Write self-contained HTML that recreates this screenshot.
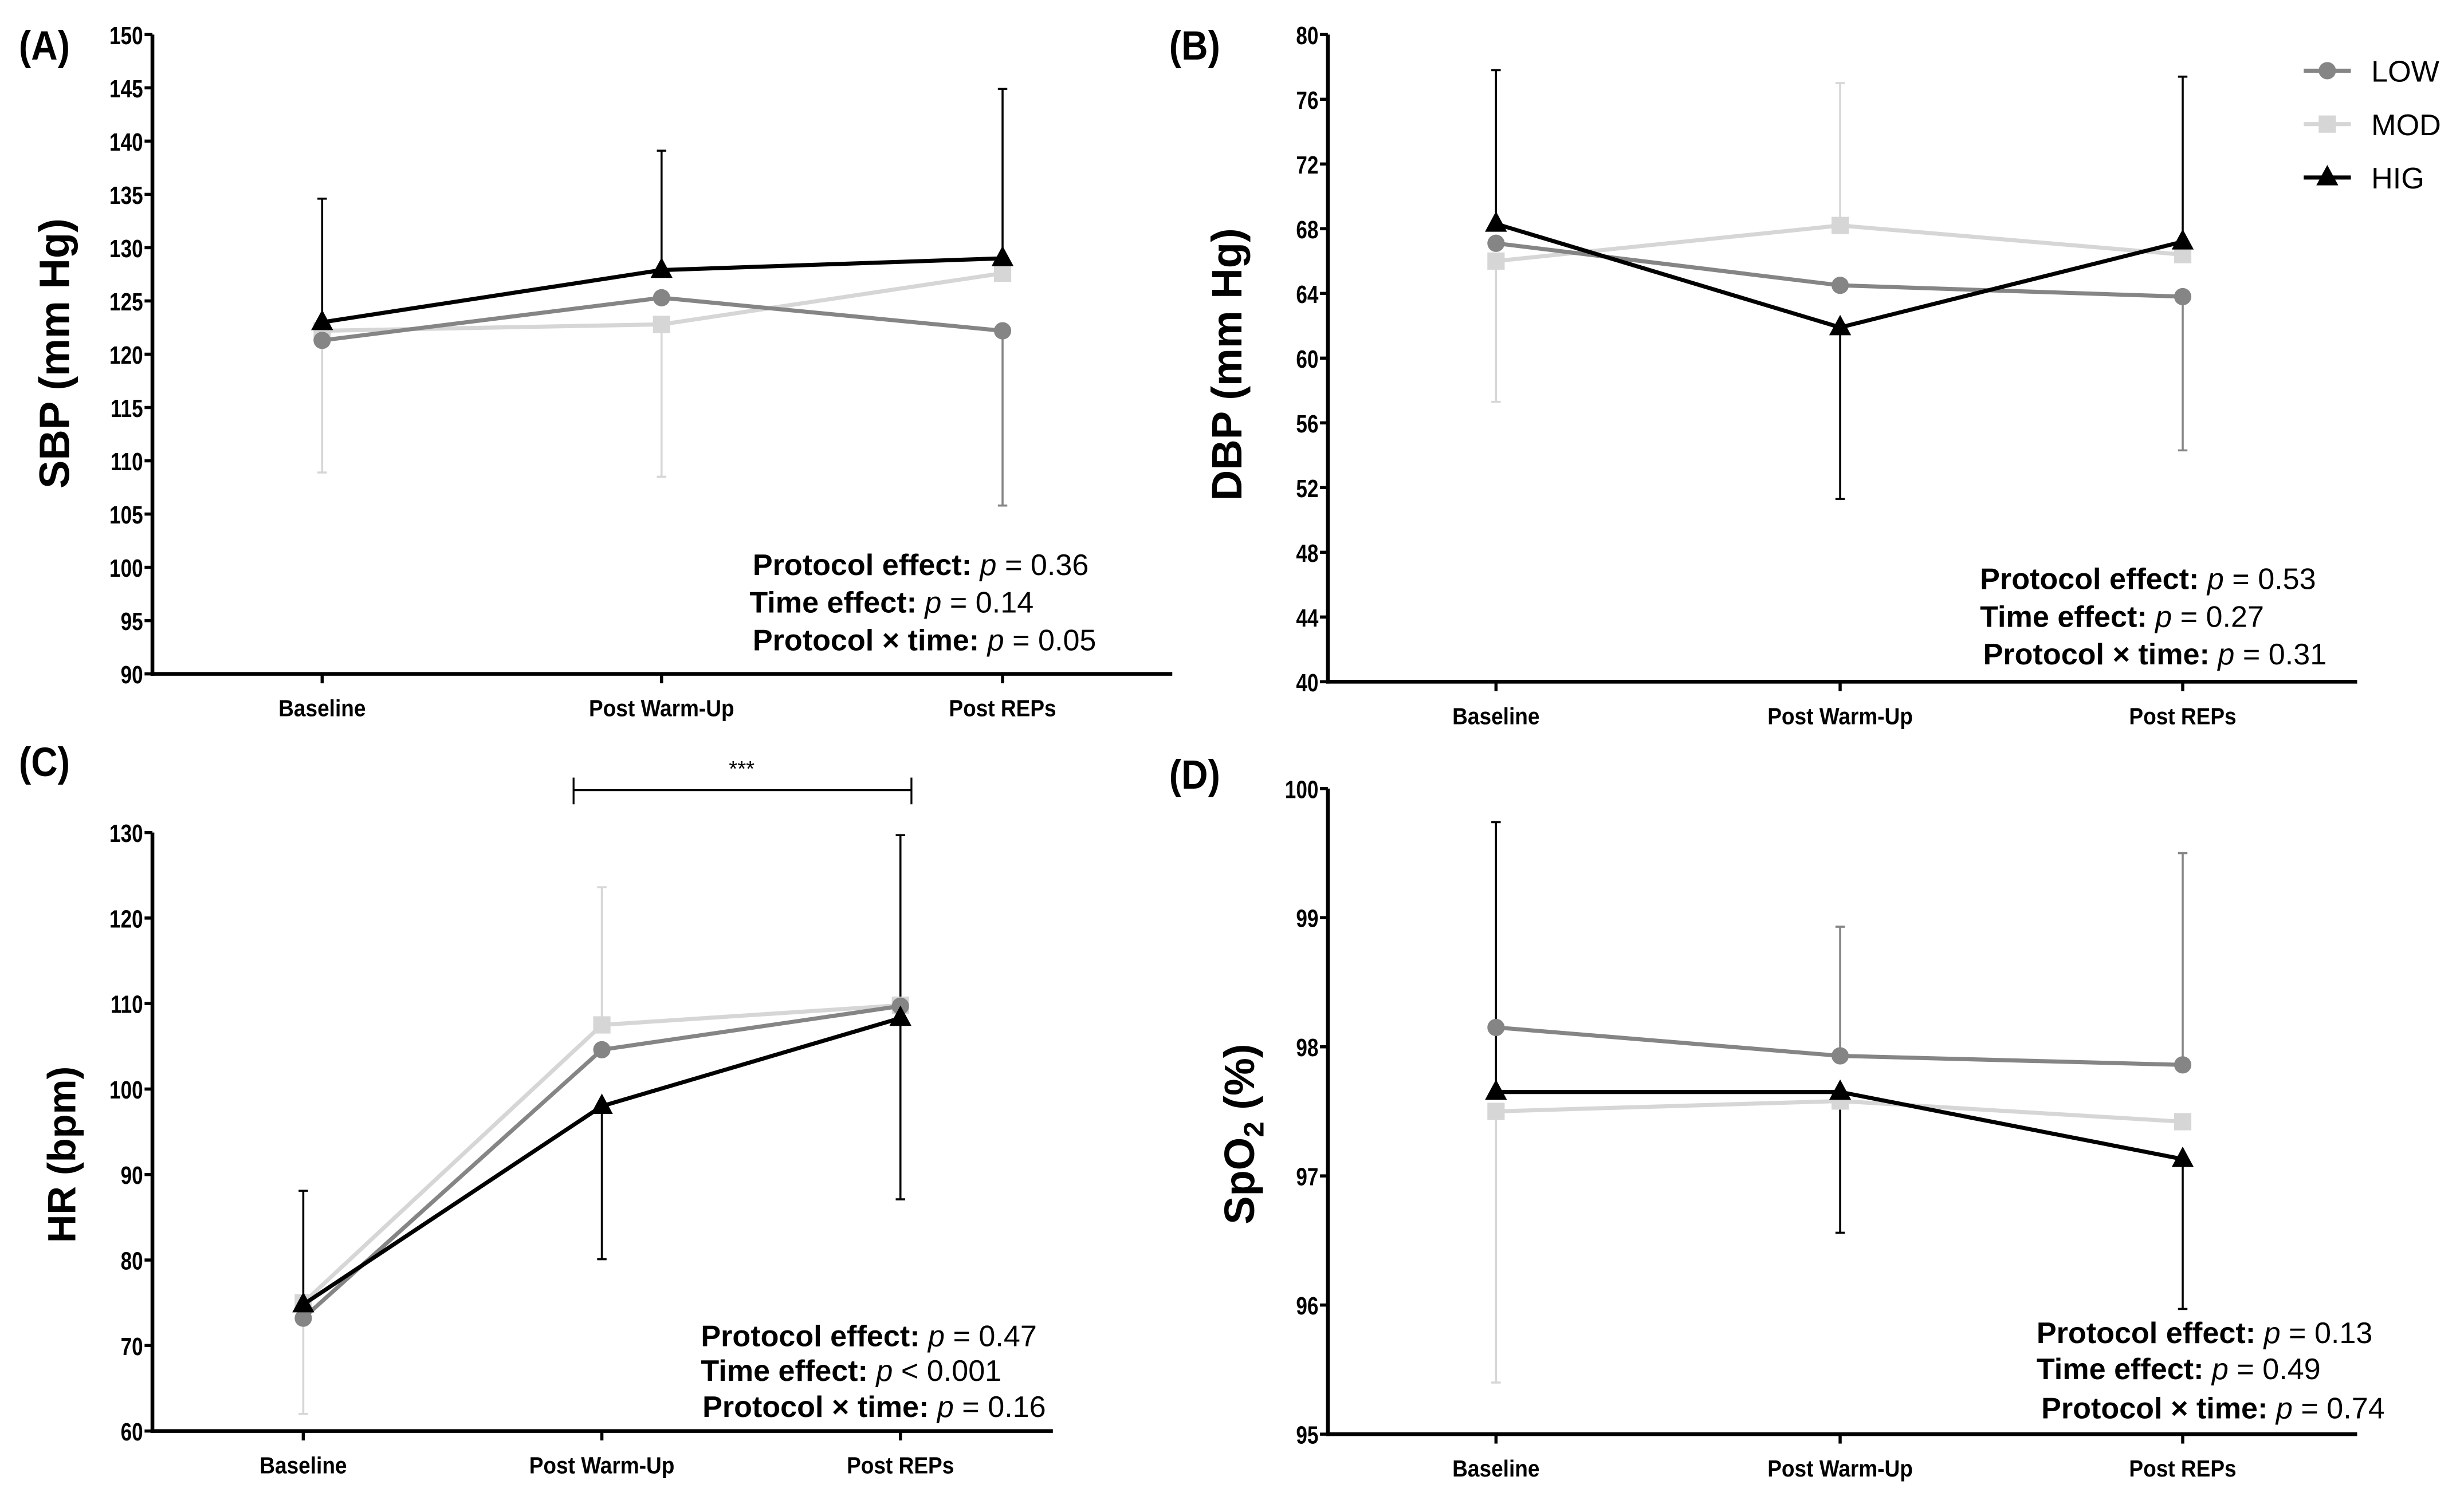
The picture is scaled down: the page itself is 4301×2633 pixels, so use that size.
<!DOCTYPE html>
<html><head><meta charset="utf-8"><style>
html,body{margin:0;padding:0;background:#fff}
svg{display:block}
text{font-family:"Liberation Sans",Arial,sans-serif}
</style></head><body>
<svg id="fig" width="4301" height="2633" viewBox="0 0 1568 960" preserveAspectRatio="none" xmlns="http://www.w3.org/2000/svg"></svg>
<script>
const categories=["Baseline","Post Warm-Up","Post REPs"];
// Panel A (SBP)
const aLow=[121.3,125.3,122.2], aMod=[122.2,122.8,127.6], aHig=[123,127.9,129];
const aErr=[["HIG",0,134.6],["HIG",1,139.1],["HIG",2,144.9],["MOD",0,108.9],["MOD",1,108.5],["LOW",2,105.8]];
const aTicks=[90,95,100,105,110,115,120,125,130,135,140,145,150];
// Panel B (DBP)
const bLow=[67.1,64.5,63.8], bMod=[66,68.2,66.4], bHig=[68.3,61.9,67.2];
const bErr=[["HIG",0,77.8],["HIG",1,51.3],["HIG",2,77.4],["MOD",0,57.3],["MOD",1,77],["LOW",2,54.3]];
const bTicks=[40,44,48,52,56,60,64,68,72,76,80];
// Panel C (HR)
const cLow=[73.2,104.6,109.7], cMod=[75,107.5,109.8], cHig=[74.8,98,108.3];
const cErr=[["HIG",0,88.1],["HIG",1,80.1],["HIG",2,129.7],["HIG",2,87.1],["MOD",0,62],["MOD",1,123.6]];
const cTicks=[60,70,80,90,100,110,120,130];
// Panel D (SpO2)
const dLow=[98.15,97.93,97.86], dMod=[97.5,97.58,97.42], dHig=[97.65,97.65,97.13];
const dErr=[["HIG",0,99.74],["HIG",1,96.56],["HIG",2,95.97],["MOD",0,95.4],["LOW",1,98.93],["LOW",2,99.5]];
const dTicks=[95,96,97,98,99,100];

const NS="http://www.w3.org/2000/svg";
const svg=document.getElementById('fig');
const COL={LOW:"#858585",MOD:"#d6d6d6",HIG:"#000"};
function mk(tag,attrs,parent,txt){const e=document.createElementNS(NS,tag);for(const k in attrs)e.setAttribute(k,attrs[k]);if(txt!==undefined)e.textContent=txt;(parent||svg).appendChild(e);return e;}

function marker(g,s,x,y){
  let m;
  if(s==="LOW"){m=mk('circle',{cx:x,cy:y,r:5.5,fill:COL.LOW},g);}
  else if(s==="MOD"){m=mk('rect',{x:x-5.5,y:y-5.5,width:11,height:11,fill:COL.MOD},g);}
  else {m=mk('polygon',{points:`${x},${y-8} ${x-7},${y+5} ${x+7},${y+5}`,fill:"#000"},g);}
  
  
}

function panel(cfg){
  const g=mk('g',{});
  
  
  const y=v=>cfg.y0+(v-cfg.vmin)/(cfg.vmax-cfg.vmin)*(cfg.y1-cfg.y0);
  const x=i=>cfg.xs[i];
  cfg.err.forEach(([s,i,v])=>{
    const l=mk('line',{x1:x(i),x2:x(i),y1:y(cfg.series[s][i]),y2:y(v),stroke:COL[s],'stroke-width':1.3},g);
     
    const c=mk('line',{x1:x(i)-3,x2:x(i)+3,y1:y(v),y2:y(v),stroke:COL[s],'stroke-width':1.3},g);
     
  });
  ["MOD","LOW","HIG"].forEach(s=>{
    const pts=cfg.series[s].map((v,i)=>x(i)+","+y(v)).join(" ");
    const p=mk('polyline',{points:pts,fill:"none",stroke:COL[s],'stroke-width':2.6},g);
    
    
    cfg.series[s].forEach((v,i)=>marker(g,s,x(i),y(v)));
  });
  const ya=mk('line',{x1:cfg.ax,x2:cfg.ax,y1:y(cfg.vmax),y2:cfg.y0+1.2,stroke:"#000",'stroke-width':2.4},g);
   
  const xa=mk('line',{x1:cfg.ax-1.2,x2:cfg.axEnd,y1:cfg.y0,y2:cfg.y0,stroke:"#000",'stroke-width':2.4},g);
   
  cfg.ticks.forEach(t=>{
    mk('line',{x1:cfg.ax-5,x2:cfg.ax,y1:y(t),y2:y(t),stroke:"#000",'stroke-width':2},g);
    const tl=mk('text',{x:cfg.ax-6,y:y(t)+6,'text-anchor':'end','font-size':16,'font-weight':'bold',transform:`translate(${cfg.ax-6},0) scale(0.8,1) translate(${-(cfg.ax-6)},0)`},g,String(t));
     
  });
  categories.forEach((c,i)=>{
    mk('line',{x1:x(i),x2:x(i),y1:cfg.y0,y2:cfg.y0+6,stroke:"#000",'stroke-width':2},g);
    const tl=mk('text',{x:x(i),y:cfg.y0+27,'text-anchor':'middle','font-size':15,'font-weight':'bold',transform:`translate(${x(i)},0) scale(0.9,1) translate(${-x(i)},0)`},g,c);
     
  });
  const yt=mk('text',{x:0,y:0,'text-anchor':'middle','font-size':cfg.titleSize||27,'font-weight':'bold',transform:`translate(${cfg.titleX},${cfg.titleY}) rotate(-90)`},g);
   
  yt.innerHTML=cfg.title;
  const pl=mk('text',{x:cfg.labX,y:cfg.labY,'font-size':26,'font-weight':'bold',transform:`translate(${cfg.labX},0) scale(0.9,1) translate(${-cfg.labX},0)`},g,cfg.label);
   
  cfg.stats.forEach((s,k)=>{
    const t=mk('text',{x:cfg.statX[k],y:cfg.statY[k],'font-size':19},g);
     
    t.innerHTML=`<tspan font-weight="bold">${s[0]}</tspan> <tspan font-style="italic">p</tspan> ${s[1]}`;
  });
  return {g,y,x};
}

panel({name:'panel-a-sbp',ax:97,axEnd:746,y0:429,y1:22,vmin:90,vmax:150,xs:[205,421,638],
  series:{LOW:aLow,MOD:aMod,HIG:aHig},err:aErr,ticks:aTicks,title:"SBP (mm Hg)",titleX:44,titleY:225,
  label:"(A)",labX:12,labY:38,
  stats:[["Protocol effect:","= 0.36"],["Time effect:","= 0.14"],["Protocol × time:","= 0.05"]],
  statX:[479,477,479],statY:[366,390,414]});
panel({name:'panel-b-dbp',ax:845,axEnd:1500,y0:434,y1:22,vmin:40,vmax:80,xs:[952,1171,1389],
  series:{LOW:bLow,MOD:bMod,HIG:bHig},err:bErr,ticks:bTicks,title:"DBP (mm Hg)",titleX:790,titleY:232,
  label:"(B)",labX:744,labY:38,
  stats:[["Protocol effect:","= 0.53"],["Time effect:","= 0.27"],["Protocol × time:","= 0.31"]],
  statX:[1260,1260,1262],statY:[375,399,423]});
panel({name:'panel-c-hr',ax:97,axEnd:670,y0:911,y1:530,vmin:60,vmax:130,xs:[193,383,573],
  series:{LOW:cLow,MOD:cMod,HIG:cHig},err:cErr,ticks:cTicks,title:"HR (bpm)",titleX:48,titleY:735,titleSize:25,
  label:"(C)",labX:12,labY:494,
  stats:[["Protocol effect:","= 0.47"],["Time effect:","&lt; 0.001"],["Protocol × time:","= 0.16"]],
  statX:[446,446,447],statY:[857,879,902]});
panel({name:'panel-d-spo2',ax:845,axEnd:1500,y0:913,y1:502,vmin:95,vmax:100,xs:[952,1171,1389],
  series:{LOW:dLow,MOD:dMod,HIG:dHig},err:dErr,ticks:dTicks,title:'SpO<tspan font-size="18" dy="6">2</tspan><tspan dy="-6"> (%)</tspan>',titleX:798,titleY:722,
  label:"(D)",labX:744,labY:502,
  stats:[["Protocol effect:","= 0.13"],["Time effect:","= 0.49"],["Protocol × time:","= 0.74"]],
  statX:[1296,1296,1299],statY:[855,878,903]});

const sig=mk('g',{});


mk('line',{x1:365,x2:580,y1:503,y2:503,stroke:"#000",'stroke-width':1.2},sig);
mk('line',{x1:365,x2:365,y1:495,y2:512,stroke:"#000",'stroke-width':1.2},sig);
mk('line',{x1:580,x2:580,y1:495,y2:512,stroke:"#000",'stroke-width':1.2},sig);
mk('text',{x:472,y:494,'text-anchor':'middle','font-size':14},sig,"***");

const lg=mk('g',{});


[["LOW",45],["MOD",79],["HIG",113]].forEach(([s,yy])=>{
  const e=mk('g',{},lg);
  
  
  mk('line',{x1:1466,x2:1496,y1:yy,y2:yy,stroke:COL[s],'stroke-width':2.6},e);
  marker(e,s,1481,yy);
  mk('text',{x:1509,y:yy+7,'font-size':19,fill:"#000"},e,s);
});
</script>
</body></html>
